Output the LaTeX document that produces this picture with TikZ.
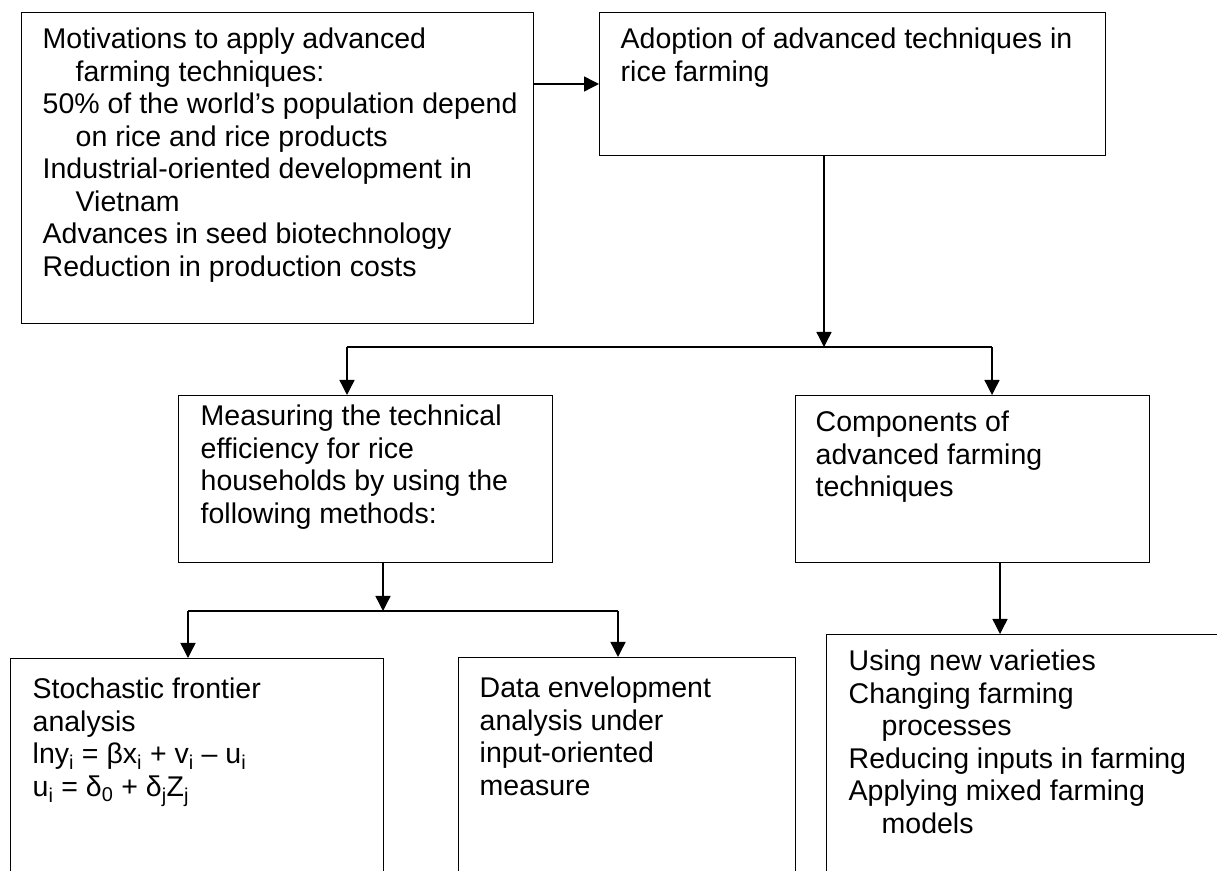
\documentclass[tikz,border=0pt]{standalone}
\usepackage{fontspec}
\setmainfont{Liberation Sans}
\usetikzlibrary{arrows.meta}
\newcommand{\ind}{\hspace*{33pt}}
\newcommand{\fst}{\rule{0pt}{22pt}}
\begin{document}
\begin{tikzpicture}[x=1pt,y=1pt,line width=1.4pt,
  box/.style={draw,rectangle,inner sep=0pt,anchor=north west},
  txt/.style={anchor=north west,inner sep=0pt,align=left,font=\fontsize{28.5}{32.5}\selectfont},
  arr/.style={-{Triangle[length=15pt,width=15pt]}}]
\useasboundingbox (0,0) rectangle (1217,870);
\clip (0,0) rectangle (1217,870);
% boxes
\node[box,minimum width=512pt,minimum height=311pt] (b1) at (21,858) {};
\node[box,minimum width=506pt,minimum height=143pt] (b2) at (599,858) {};
\node[box,minimum width=374pt,minimum height=167pt] (b3) at (178,475) {};
\node[box,minimum width=354pt,minimum height=167pt] (b4) at (795,475) {};
\node[box,minimum width=373pt,minimum height=260pt] (b5) at (10,212) {};
\node[box,minimum width=337pt,minimum height=260pt] (b6) at (458,213) {};
\node[box,minimum width=450pt,minimum height=300pt] (b7) at (826,236) {};
% texts
\node[txt] (t1) at (42,844) {\fst Motivations to apply advanced\\
\ind farming techniques:\\
50\% of the world’s population depend\\
\ind on rice and rice products\\
Industrial-oriented development in\\
\ind Vietnam\\
Advances in seed biotechnology\\
Reduction in production costs};
\node[txt] (t2) at (620,844) {\fst Adoption of advanced techniques in\\rice farming};
\node[txt] (t3) at (200,467) {\fst Measuring the technical\\efficiency for rice\\households by using the\\following methods:};
\node[txt] (t4) at (815,461) {\fst Components of\\advanced farming\\techniques};
\node[txt] (t5) at (32,194) {\fst Stochastic frontier\\analysis\\lny\textsubscript{i} = βx\textsubscript{i} + v\textsubscript{i} – u\textsubscript{i}\\u\textsubscript{i} = δ\textsubscript{0} + δ\textsubscript{j}Z\textsubscript{j}};
\node[txt] (t6) at (479,195) {\fst Data envelopment\\analysis under\\input-oriented\\measure};
\node[txt] (t7) at (848,222) {\fst Using new varieties\\Changing farming\\
\ind processes\\Reducing inputs in farming\\Applying mixed farming\\
\ind models};
% connectors
\coordinate (y1) at (0,786);
\draw[arr] (b1.east |- y1) -- (b2.west |- y1);
\coordinate (j1) at (824,523);
\coordinate (j1l) at (347,523);
\coordinate (j1r) at (992,523);
\draw[arr] (b2.south -| j1) -- (j1);
\draw (j1l) -- (j1r);
\draw[arr] (j1l) -- (j1l |- b3.north);
\draw[arr] (j1r) -- (j1r |- b4.north);
\coordinate (j2) at (383,259);
\coordinate (j2l) at (188,259);
\coordinate (j2r) at (618,259);
\draw[arr] (b3.south -| j2) -- (j2);
\draw (j2l) -- (j2r);
\draw[arr] (j2l) -- (j2l |- b5.north);
\draw[arr] (j2r) -- (j2r |- b6.north);
\coordinate (k) at (1000,0);
\draw[arr] (b4.south -| k) -- (b7.north -| k);
\end{tikzpicture}
\end{document}
